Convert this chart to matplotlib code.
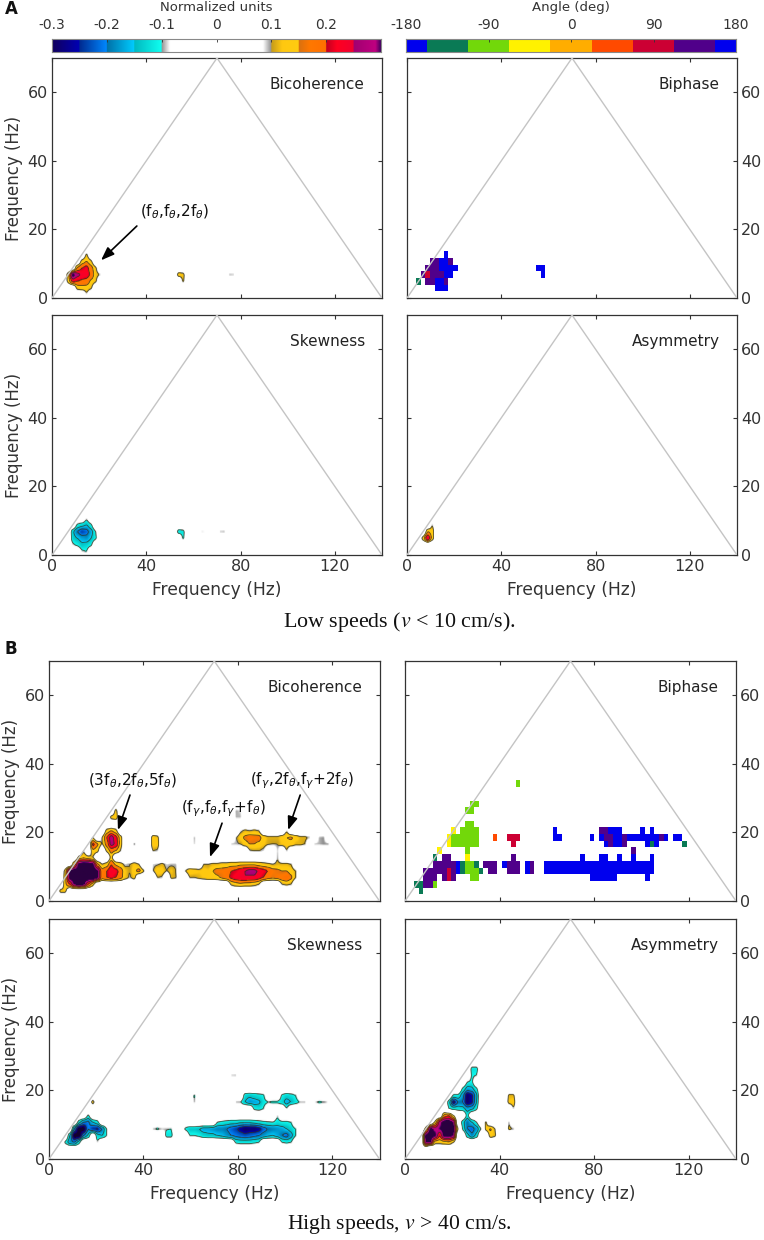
import numpy as np
from matplotlib import pyplot as plt
from matplotlib.colors import LinearSegmentedColormap, ListedColormap, BoundaryNorm, Normalize

BIN_HZ = 1.953
N_F1, N_F2 = 72, 36

# cell values are (f2 bin, first f1 bin, values along f1)
LOW_BICOH = [
    (0, 7, [.09]),
    (1, 5, [.12, .13, .13, .11]),
    (2, 3, [.12, .22, .2, .19, .18, .14, .11]),
    (2, 28, [.11]),
    (3, 3, [.13, .33, .27, .24, .23, .19, .12, .095]),
    (3, 27, [.13, .12]),
    (3, 31, [.094]), (3, 33, [.092]), (3, 38, [.098, .096]), (3, 43, [.09]),
    (4, 5, [.16, .2, .22, .17, .11]),
    (5, 6, [.12, .15, .11]),
    (6, 7, [.11]),
]
LOW_SKEW = [
    (0, 6, [-.09, -.1]),
    (1, 4, [-.09, -.11, -.14, -.13, -.11]),
    (2, 4, [-.13, -.15, -.17, -.18, -.15, -.11]),
    (2, 28, [-.11]),
    (3, 4, [-.14, -.2, -.24, -.22, -.17, -.1]),
    (3, 27, [-.13, -.12]),
    (3, 30, [-.092]), (3, 32, [-.093, -.09]), (3, 36, [-.096, -.098]),
    (4, 5, [-.11, -.13, -.15, -.11]),
    (5, 7, [-.09]),
]
LOW_ASYM = [
    (2, 3, [.13, .26, .13]),
    (3, 4, [.15, .13]),
    (4, 5, [.1]),
]
HIGH_BICOH = [
    (1, 2, [.12, .12]),
    (2, 3, [.14, .2, .31, .34, .32, .2, .12]),
    (2, 39, [.11, .13, .14, .13, .13, .12, .1]),
    (2, 50, [.1, .11, .1]),
    (3, 3, [.13, .33, .35, .36, .36, .36, .36, .32, .17, .2, .22, .2, .17, .12, .095, .12]),
    (3, 23, [.1, .095]), (3, 26, [.11, .105]),
    (3, 30, [.1, .1, .11, .12, .13, .13, .14, .16, .18, .21, .23, .24, .25, .24, .24, .22, .2, .17, .16, .17, .18, .2, .16, .1]),
    (4, 3, [.12, .33, .34, .35, .35, .35, .35, .31, .17, .2, .24, .22, .18, .12, .1, .14, .17, .11]),
    (4, 22, [.095, .14, .13, .1, .12, .1]),
    (4, 29, [.1, .14, .13, .12, .13, .12, .15, .17, .17, .18, .2, .21, .23, .25, .27, .27, .24, .22, .2, .17, .16, .15, .15, .13, .1]),
    (5, 5, [.16, .33, .34, .34, .32, .16, .1, .12, .2, .14, .12, .09, .1, .12, .1]),
    (5, 22, [.09, .095, .11, .09, .095, .095]),
    (5, 33, [.1, .1, .11, .11, .12, .12, .13, .13, .14, .14, .14, .14, .13, .12, .11, .1, .11, .11, .11, .1]),
    (6, 6, [.12, .14, .12, .1]), (6, 13, [.12]), (6, 49, [.1]),
    (7, 7, [.095]), (7, 9, [.14, .12]), (7, 12, [.11, .17, .15, .1]), (7, 22, [.1, .095]),
    (7, 43, [.095, .1, .1, .09]), (7, 49, [.095]), (7, 51, [.1]),
    (8, 9, [.22, .16]), (8, 11, [.095, .17, .27, .24, .13]), (8, 18, [.11]), (8, 22, [.13, .13]), (8, 31, [.095]),
    (8, 39, [.095, .095, .1, .13, .15, .15, .14, .12, .105, .1, .1, .12, .13, .13, .11, .11, .1]),
    (8, 57, [.095, .095, .1, .1]),
    (9, 9, [.1]), (9, 11, [.1, .2, .28, .22, .13]), (9, 22, [.13, .12]), (9, 31, [.1]),
    (9, 40, [.095, .13, .16, .18, .17, .17, .13, .11, .11, .11, .13, .15, .16, .13, .11, .11, .095]),
    (9, 58, [.095, .1]),
    (10, 12, [.12, .15, .12]), (10, 41, [.09, .11, .1, .11, .1]), (10, 51, [.095]),
    (12, 13, [.12, .14]), (12, 40, [.095, .095]),
    (13, 14, [.12]), (13, 40, [.097, .09]),
]
HIGH_SKEW = [
    (2, 3, [-.11, -.18, -.2, -.12]), (2, 10, [-.095]),
    (2, 40, [-.11, -.12, -.12, -.12, -.11, -.1]), (2, 50, [-.1, -.11, -.1]),
    (3, 4, [-.15, -.33, -.33, -.2, -.14]), (3, 10, [-.13, -.15, -.1]), (3, 25, [-.12, -.12]),
    (3, 30, [-.1, -.1, -.11, -.13, -.14, -.14, -.15, -.16, -.18, -.2, -.21, -.22, -.23, -.22, -.21, -.2, -.18, -.16, -.15, -.17, -.2, -.22, -.17, -.1]),
    (4, 5, [-.2, -.33, -.33, -.2, -.25, -.26, -.2, -.1]),
    (4, 22, [-.095, -.11, -.095, -.097, -.1]),
    (4, 29, [-.11, -.14, -.14, -.15, -.17, -.17, -.18, -.19, -.19, -.2, -.22, -.24, -.27, -.3, -.29, -.29, -.27, -.22, -.2, -.19, -.18, -.17, -.15, -.13, -.1]),
    (5, 6, [-.13, -.2, -.21, -.15, -.12]),
    (5, 36, [-.1, -.11, -.12, -.13, -.13, -.14, -.14, -.14, -.13, -.12, -.11, -.105, -.1, -.12, -.11, -.11, -.1]),
    (6, 8, [-.11]), (6, 49, [-.095]),
    (7, 44, [-.11, -.12, -.1]), (7, 51, [-.095]),
    (8, 9, [.13]), (8, 31, [-.1]),
    (8, 40, [-.097, -.1, -.15, -.18, -.17, -.16, -.12, -.105, -.11, -.11, -.13, -.17, -.15, -.12, -.097, -.097]),
    (8, 57, [-.09, -.11, -.105, -.09]),
    (9, 31, [-.11]), (9, 42, [-.13, -.14, -.13, -.12, -.11]), (9, 50, [-.11, -.13, -.12, -.1]),
    (12, 39, [-.095, -.097]),
]
HIGH_ASYM = [
    (1, 5, [-.1]),
    (2, 4, [.3, .31, .12, .12, .13, .14, .1]),
    (3, 4, [.33, .34, .32, .2, .33, .33, .3]), (3, 13, [-.13, -.19, -.13]), (3, 18, [.13, .11]),
    (4, 4, [.12, .33, .28, .3, .33, .33, .33, .1]), (4, 12, [-.11, -.2, -.22, -.18, -.1]),
    (4, 17, [.12, .16, .1]), (4, 22, [.11, .1]),
    (5, 6, [.11, .28, .33, .33, .3]), (5, 12, [-.13, -.2, -.15, -.1]), (5, 17, [.11]), (5, 22, [.1]),
    (6, 8, [.17, .2, .1]), (6, 13, [-.12]),
    (7, 9, [-.1, -.12, -.12, -.13, -.17, -.16, -.11]), (7, 23, [.095]),
    (8, 9, [-.13, -.28, -.2, -.2, -.3, -.26, -.15]), (8, 18, [.095]), (8, 22, [.12, .13]),
    (9, 10, [-.11, -.11, -.18, -.3, -.26, -.16]), (9, 22, [.11, .11]),
    (10, 12, [-.11, -.17, -.16, -.11]),
    (11, 13, [-.1, -.11]),
    (12, 14, [-.11, -.1]),
    (13, 14, [-.12, -.12]),
]

# biphase runs are (f2 bin, first f1 bin, last f1 bin, angle)
LOW_PHASE = [
    (1, 6, 8, 180),
    (2, 2, 2, -135), (2, 4, 5, 135), (2, 6, 7, 180), (2, 8, 8, 135),
    (3, 3, 3, 135), (3, 4, 4, 90), (3, 5, 7, 135), (3, 8, 9, 180), (3, 29, 29, 180),
    (4, 4, 6, 135), (4, 7, 10, 180), (4, 28, 29, 180),
    (5, 5, 6, 135), (5, 7, 8, 180), (5, 9, 9, 135),
    (6, 8, 8, 180),
]
HIGH_PHASE = [
    (1, 3, 3, -135),
    (2, 2, 3, -135), (2, 4, 5, 135), (2, 6, 6, -90),
    (3, 4, 6, 135), (3, 8, 8, 135), (3, 9, 9, 90), (3, 10, 10, 135), (3, 14, 15, -90), (3, 40, 45, 180), (3, 52, 52, 180),
    (4, 4, 8, 135), (4, 9, 9, 90), (4, 10, 10, 135), (4, 11, 11, 180), (4, 12, 12, -135), (4, 13, 15, -90), (4, 16, 16, -135),
    (4, 18, 19, 135), (4, 22, 24, 135), (4, 26, 26, 180), (4, 27, 27, 135), (4, 30, 53, 180),
    (5, 6, 10, 135), (5, 11, 11, 180), (5, 12, 12, -135), (5, 13, 14, -90), (5, 15, 15, -135),
    (5, 17, 19, 135), (5, 21, 21, 180), (5, 22, 24, 135), (5, 26, 26, 180), (5, 27, 27, 135), (5, 30, 53, 180),
    (6, 6, 6, -135), (6, 8, 9, 135), (6, 13, 13, -45), (6, 23, 23, 135), (6, 38, 38, 180), (6, 42, 43, 180), (6, 46, 46, 180), (6, 49, 49, 180), (6, 53, 53, 180),
    (7, 7, 7, -45), (7, 13, 13, -90), (7, 49, 49, 135),
    (8, 9, 9, -45), (8, 10, 15, -90), (8, 23, 23, 90), (8, 43, 43, 180), (8, 44, 44, 135), (8, 45, 46, 180), (8, 47, 47, 135),
    (8, 52, 52, 180), (8, 53, 53, -135), (8, 54, 54, 180), (8, 60, 60, -135),
    (9, 9, 9, -45), (9, 10, 15, -90), (9, 19, 19, 45), (9, 22, 24, 90), (9, 32, 33, 180), (9, 40, 40, 180), (9, 42, 42, 180),
    (9, 43, 44, 135), (9, 45, 46, 180), (9, 47, 47, 135), (9, 48, 54, 180), (9, 55, 55, 135), (9, 56, 56, 180), (9, 58, 59, 180),
    (10, 10, 10, -45), (10, 12, 15, -90), (10, 32, 32, 180), (10, 42, 43, 135), (10, 44, 46, 180), (10, 51, 51, 180), (10, 53, 53, 180),
    (11, 13, 14, -90),
    (13, 13, 14, -90),
    (14, 14, 15, -90),
    (17, 24, 24, -90),
]

NORM_ANCHORS = [
    (-.3, '#12005c'), (-.25, '#0000b4'),
    (-.25, '#002a90'), (-.2, '#0088ff'),
    (-.2, '#0070a8'), (-.15, '#00ccff'),
    (-.15, '#00b8c0'), (-.1, '#10fff0'),
    (-.1, '#909090'), (-.085, '#ffffff'),
    (.085, '#ffffff'), (.1, '#909090'),
    (.1, '#c49a1a'), (.12, '#ffc810'), (.15, '#ffcc10'),
    (.15, '#d87010'), (.17, '#ff7800'), (.2, '#ff7000'),
    (.2, '#c00020'), (.22, '#ff0020'), (.25, '#f00030'),
    (.25, '#a00070'), (.29, '#c00080'), (.3, '#400060'),
]
PHASE_COLORS = ['#0000ee', '#0a7a55', '#72d80a', '#fff200', '#ffad00', '#ff4a00', '#cc0033', '#50008a', '#0000ee']
PHASE_EDGES = [-180, -157.5, -112.5, -67.5, -22.5, 22.5, 67.5, 112.5, 157.5, 180]

norm_cmap = LinearSegmentedColormap.from_list(
    'norm_units', [((v + .3) / .6, c) for v, c in NORM_ANCHORS], N=1200)
norm_cmap.set_under('#140030')
norm_cmap.set_over('#2a0040')
norm_scale = Normalize(-.3, .3)
phase_cmap = ListedColormap(PHASE_COLORS)
phase_scale = BoundaryNorm(PHASE_EDGES, phase_cmap.N)

plt.rcParams['font.family'] = 'DejaVu Sans'
plt.rcParams['mathtext.fontset'] = 'dejavusans'
W, H = 764, 1240
fig = plt.figure(figsize=(W / 100, H / 100), dpi=100)
INK = '#333333'


def px_axes(x0, x1, y_top, y_bot):
    return fig.add_axes([x0 / W, 1 - y_bot / H, (x1 - x0) / W, (y_bot - y_top) / H])


def grid_from(rows):
    z = np.zeros((N_F2, N_F1))
    for j, i0, vals in rows:
        z[j, i0:i0 + len(vals)] = vals
    return z


def refine(z, n=6):
    # repeat each bin, then blur a little so the cells round off but keep their size
    z = np.repeat(np.repeat(z, n, axis=0), n, axis=1)
    for width in (5, 3):
        k = np.ones(width) / width
        z = np.array([np.convolve(r, k, mode='same') for r in z])
        z = np.array([np.convolve(c, k, mode='same') for c in z.T]).T
    x = (np.arange(N_F1 * n) + .5) * BIN_HZ / n
    y = (np.arange(N_F2 * n) + .5) * BIN_HZ / n
    return x, y, z


def style_panel(ax, title, side, bottom):
    ax.plot([0, 70, 140], [0, 70, 0], color='#c4c4c4', lw=1, zorder=5)
    ax.set_xlim(0, 140)
    ax.set_ylim(0, 70)
    ax.set_xticks([0, 40, 80, 120])
    ax.set_yticks([0, 20, 40, 60])
    ax.tick_params(direction='in', length=3, width=.8, color=INK, top=True, right=True,
                   labelsize=11.5, labelcolor=INK, pad=3)
    if side == 'right':
        ax.yaxis.tick_right()
        ax.tick_params(left=True, right=True)
    else:
        ax.set_ylabel('Frequency (Hz)', fontsize=12, color=INK, labelpad=3)
    if bottom:
        ax.set_xlabel('Frequency (Hz)', fontsize=12.3, color=INK, labelpad=5)
    else:
        ax.tick_params(labelbottom=False)
    for s in ax.spines.values():
        s.set_color(INK)
        s.set_linewidth(.9)
    ax.text(.948, .89, title, transform=ax.transAxes, ha='right', va='center', fontsize=11, color='#222222')


def field_panel(box, rows, title, side, bottom):
    ax = px_axes(*box)
    x, y, z = refine(grid_from(rows))
    ax.imshow(z, origin='lower', extent=[0, N_F1 * BIN_HZ, 0, N_F2 * BIN_HZ], aspect='auto',
              cmap=norm_cmap, norm=norm_scale, interpolation='bilinear')
    ax.contour(x, y, z, levels=[-.25, -.2, -.15, -.1, .1, .15, .2, .25],
               colors='#30301a', linewidths=.6, linestyles='solid', alpha=.75)
    style_panel(ax, title, side, bottom)
    return ax


def phase_panel(box, runs, title, side, bottom):
    ax = px_axes(*box)
    z = np.full((N_F2, N_F1), np.nan)
    for j, i0, i1, angle in runs:
        z[j, i0:i1 + 1] = angle
    xe = np.arange(N_F1 + 1) * BIN_HZ
    ye = np.arange(N_F2 + 1) * BIN_HZ
    ax.pcolormesh(xe, ye, np.ma.masked_invalid(z), cmap=phase_cmap, norm=phase_scale)
    style_panel(ax, title, side, bottom)
    return ax


def note(ax, label, text_xy, tail, head):
    ax.text(text_xy[0], text_xy[1], label, ha='center', va='center', fontsize=11, color='#111111', zorder=7)
    ax.annotate('', xy=head, xytext=tail, zorder=7,
                arrowprops=dict(arrowstyle='-|>,head_width=.3,head_length=.8', color='black', lw=1.2,
                                shrinkA=0, shrinkB=0))


a1 = field_panel((52, 382, 58, 298), LOW_BICOH, 'Bicoherence', 'left', False)
phase_panel((407, 737, 58, 298), LOW_PHASE, 'Biphase', 'right', False)
field_panel((52, 382, 315, 555), LOW_SKEW, 'Skewness', 'left', True)
field_panel((407, 737, 315, 555), LOW_ASYM, 'Asymmetry', 'right', True)

b1 = field_panel((49, 379.5, 661, 901), HIGH_BICOH, 'Bicoherence', 'left', False)
phase_panel((405, 736, 661, 901), HIGH_PHASE, 'Biphase', 'right', False)
field_panel((49, 379.5, 919, 1159), HIGH_SKEW, 'Skewness', 'left', True)
field_panel((405, 736, 919, 1159), HIGH_ASYM, 'Asymmetry', 'right', True)

note(a1, r'(f$_{\theta}$,f$_{\theta}$,2f$_{\theta}$)', (52, 25), (36, 21), (20.8, 11))
note(b1, r'(3f$_{\theta}$,2f$_{\theta}$,5f$_{\theta}$)', (35.2, 35), (34.3, 30.9), (29.2, 20.7))
note(b1, r'(f$_{\gamma}$,f$_{\theta}$,f$_{\gamma}$+f$_{\theta}$)', (73.7, 27), (73.3, 22.7), (68.2, 12.8))
note(b1, r'(f$_{\gamma}$,2f$_{\theta}$,f$_{\gamma}$+2f$_{\theta}$)', (107, 35), (106.4, 30.9), (101.3, 20.7))

# colour scales on top
cb1 = px_axes(52, 381, 39, 52)
cb1.imshow(np.linspace(-.3, .3, 1200)[None, :], extent=[-.3, .3, 0, 1], aspect='auto', cmap=norm_cmap, norm=norm_scale)
cb1.set_xticks([-.3, -.2, -.1, 0, .1, .2])
cb1.set_xticklabels(['-0.3', '-0.2', '-0.1', '0', '0.1', '0.2'])
cb1.set_xlabel('Normalized units', fontsize=9.5, color=INK, labelpad=5)

cb2 = px_axes(406, 736, 39, 52)
cb2.pcolormesh(PHASE_EDGES, [0, 1], np.array([[-170, -135, -90, -45, 0, 45, 90, 135, 170]]), cmap=phase_cmap, norm=phase_scale)
cb2.set_xticks([-180, -90, 0, 90, 180])
cb2.set_xticklabels(['-180', '-90', '0', '90', '180'])
cb2.set_xlabel('Angle (deg)', fontsize=9.5, color=INK, labelpad=5)

for cb in (cb1, cb2):
    cb.set_yticks([])
    cb.xaxis.set_label_position('top')
    cb.xaxis.tick_top()
    cb.tick_params(direction='in', length=2, width=.6, color=INK, labelsize=10, labelcolor=INK, pad=5)
    for s in cb.spines.values():
        s.set_color('#888888')
        s.set_linewidth(.8)

fig.text(5 / W, 1 - 9.5 / H, 'A', fontsize=12, fontweight='bold', va='center', color='#111111')
fig.text(5 / W, 1 - 649 / H, 'B', fontsize=12, fontweight='bold', va='center', color='#111111')

fig.text(399 / W, 1 - 622 / H, r'Low speeds ($\mathit{v}$ < 10 cm/s).', family='Liberation Serif', math_fontfamily='stix',
         fontsize=15.8, ha='center', va='center', color='#111111')
fig.text(399 / W, 1 - 1225 / H, r'High speeds, $\mathit{v}$ > 40 cm/s.', family='Liberation Serif', math_fontfamily='stix',
         fontsize=15.7, ha='center', va='center', color='#111111')

fig.savefig('out.png', dpi=100)
